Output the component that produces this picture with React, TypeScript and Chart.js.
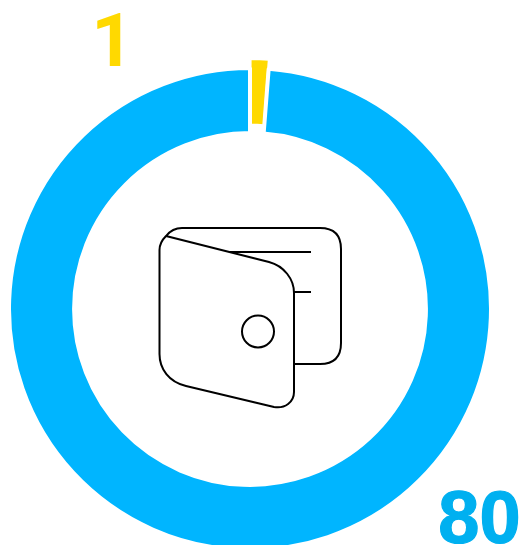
import React, { useEffect, useRef } from "react";
import { Chart, registerables } from "chart.js";

Chart.register(...registerables);

const categories = ["Minor", "Major"];
const values = [1, 80];
const sliceColors = ["#FFD900", "#00B5FF"];
const labelColors = ["#FFD900", "#00B0F0"];
const labelFonts = [
  'bold 74px Roboto, Arial, sans-serif',
  'bold 74px "Liberation Sans", Arial, sans-serif',
];
const labelHalo = [0, 1.2];
const sliceOffsets = [18, 0];
const sliceBorders = [1.5, 4];

const WALLET_OUTLINE =
  "M294 364 L320 364 Q341 364 341 343 L341 249 Q341 228 320 228 L182 228 C175 228 170 231 166 236 C162 240 159.5 245 159.5 250 L159.5 354 C159.5 369 169 382 186 386 L274 407 C285 409 294 402 294 392 L294 293 C294 279 284 266 269 262 L166 236";
const WALLET_LINES = "M230 252 L311 252 M294 292 L311 292";

const walletPlugin = {
  id: "walletIcon",
  afterDatasetsDraw(chart: Chart) {
    const { ctx } = chart;
    ctx.save();
    ctx.strokeStyle = "#000000";
    ctx.lineWidth = 2;
    ctx.lineJoin = "round";
    ctx.stroke(new Path2D(WALLET_OUTLINE));
    ctx.stroke(new Path2D(WALLET_LINES));
    ctx.beginPath();
    ctx.arc(258, 331.5, 16, 0, Math.PI * 2);
    ctx.stroke();
    ctx.restore();
  },
};

const valueLabelPlugin = {
  id: "valueLabels",
  afterDraw(chart: Chart) {
    const { ctx } = chart;
    const anchors = [
      { x: 112.5, y: 66 },
      { x: 479.5, y: 543 },
    ];
    ctx.save();
    ctx.textAlign = "center";
    ctx.textBaseline = "alphabetic";
    values.forEach((v, i) => {
      ctx.font = labelFonts[i];
      ctx.fillStyle = labelColors[i];
      ctx.fillText(String(v), anchors[i].x, anchors[i].y);
      if (labelHalo[i] > 0) {
        ctx.strokeStyle = labelColors[i];
        ctx.lineWidth = labelHalo[i];
        ctx.strokeText(String(v), anchors[i].x, anchors[i].y);
      }
    });
    ctx.restore();
  },
};

export default function App() {
  const ref = useRef<HTMLCanvasElement>(null);

  useEffect(() => {
    if (!ref.current) return;
    const chart = new Chart(ref.current, {
      type: "doughnut",
      data: {
        labels: categories,
        datasets: [
          {
            data: values,
            backgroundColor: sliceColors,
            borderColor: "#FFFFFF",
            borderWidth: sliceBorders,
            offset: sliceOffsets,
            clip: false,
          } as any,
        ],
      },
      options: {
        responsive: false,
        animation: false,
        radius: 241,
        cutout: "73%",
        layout: { padding: { left: 0, right: 21, top: 73, bottom: 0 } },
        plugins: {
          legend: { display: false },
          tooltip: { enabled: false },
        },
      } as any,
      plugins: [walletPlugin, valueLabelPlugin],
    });
    return () => chart.destroy();
  }, []);

  return (
    <div style={{ position: "fixed", left: 0, top: 0, width: 521, height: 545, background: "#FFFFFF" }}>
      <canvas ref={ref} width={521} height={545} style={{ display: "block" }} />
    </div>
  );
}
